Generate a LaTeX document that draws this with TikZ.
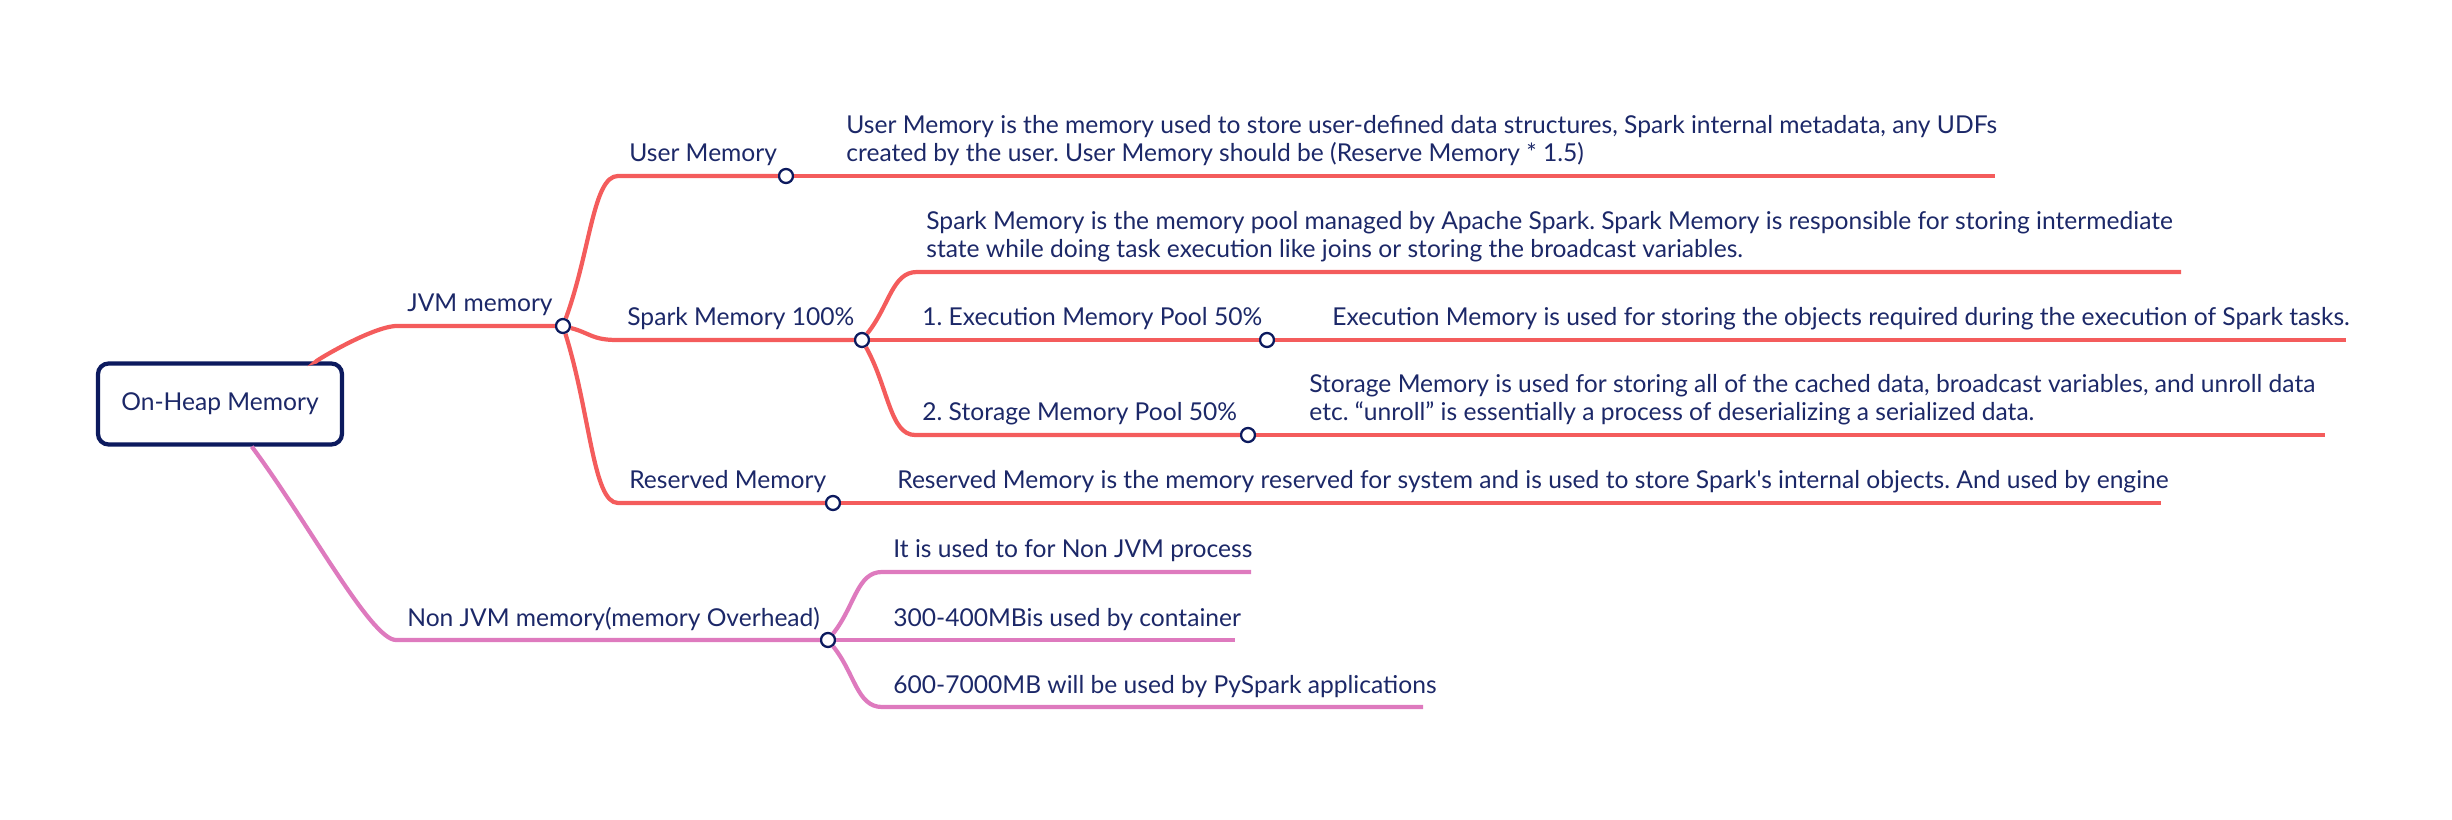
\documentclass[tikz,border=0pt]{standalone}
\usepackage{fontspec}
\usetikzlibrary{calc}
\newfontfamily\mapfont{Lato}
\definecolor{boxline}{RGB}{12,26,94}
\definecolor{inkblue}{RGB}{28,40,104}
\definecolor{jvmred}{RGB}{244,92,92}
\definecolor{nonpink}{RGB}{222,122,190}
\frenchspacing

\begin{document}
\begin{tikzpicture}[
  x=0.2mm, y=-0.2mm,
  every node/.style={text=inkblue, font=\mapfont\fontsize{14}{16.4}\selectfont},
  root/.style={
    draw=boxline, line width=2.4pt, rounded corners=6pt, fill=white,
    minimum width=48.8mm, minimum height=16.2mm, inner sep=0pt
  },
  knot/.style={
    circle, draw=boxline, fill=white, line width=1.3pt,
    minimum size=2.8mm, inner sep=0pt
  },
  lbl/.style={anchor=base west, inner sep=0pt, align=left},
  jvmline/.style={draw=jvmred, line width=2.4pt},
  nonline/.style={draw=nonpink, line width=2.4pt},
  twig/.style={to path={.. controls ($(\tikztostart)!0.5!(\tikztotarget)$)
    and ($(\tikztotarget)+(-25,0)$) .. (\tikztotarget)}},
]
\useasboundingbox (0,0) rectangle (2452,820);

% ---- Root ----
\node[root] (root) at (220,404) {On-Heap Memory};

% ---- JVM memory branch ----
\coordinate (jvm-s) at (397,326);
\node[knot] (jvm) at (563,326) {};
\node[lbl] (jvm-lbl) at (407,312) {JVM memory};

\coordinate (user-s) at (618,176);
\node[knot] (user) at (786,176) {};
\coordinate (user-e) at (1995,176);
\node[lbl] (user-lbl) at (629,162) {User Memory};
\node[lbl] (user-txt) at (846,162) {User Memory is the memory used to store user-defined data structures, Spark internal metadata, any UDFs\\created by the user. User Memory should be (Reserve Memory * 1.5)};

\coordinate (spark-s) at (617,340);
\node[knot] (spark) at (862,340) {};
\node[lbl] (spark-lbl) at (627,326) {Spark Memory 100\%};

\coordinate (sdesc-s) at (917,272);
\coordinate (sdesc-e) at (2181,272);
\node[lbl] (sdesc-txt) at (926,258) {Spark Memory is the memory pool managed by Apache Spark. Spark Memory is responsible for storing intermediate\\state while doing task execution like joins or storing the broadcast variables.};

\node[knot] (exec) at (1267,340) {};
\coordinate (exec-e) at (2346,340);
\node[lbl] (exec-lbl) at (922,326) {1. Execution Memory Pool 50\%};
\node[lbl] (exec-txt) at (1332,326) {Execution Memory is used for storing the objects required during the execution of Spark tasks.};

\coordinate (stor-s) at (915,435);
\node[knot] (stor) at (1248,435) {};
\coordinate (stor-e) at (2325,435);
\node[lbl] (stor-lbl) at (922,421) {2. Storage Memory Pool 50\%};
\node[lbl] (stor-txt) at (1309,421) {Storage Memory is used for storing all of the cached data, broadcast variables, and unroll data\\etc. “unroll” is essentially a process of deserializing a serialized data.};

\coordinate (res-s) at (618,503);
\node[knot] (res) at (833,503) {};
\coordinate (res-e) at (2161,503);
\node[lbl] (res-lbl) at (629,489) {Reserved Memory};
\node[lbl] (res-txt) at (897,489) {Reserved Memory is the memory reserved for system and is used to store Spark's internal objects. And used by engine};

% ---- Non JVM branch ----
\coordinate (non-s) at (396,640);
\node[knot] (non) at (828,640) {};
\node[lbl] (non-lbl) at (407,626) {Non JVM memory(memory Overhead)};

\coordinate (c1-s) at (882,572);
\coordinate (c1-e) at (1251,572);
\node[lbl] (c1-txt) at (893,558) {It is used to for Non JVM process};
\coordinate (c2-e) at (1235,640);
\node[lbl] (c2-txt) at (893,626) {300-400MBis used by container};
\coordinate (c3-s) at (882,707);
\coordinate (c3-e) at (1423,707);
\node[lbl] (c3-txt) at (893,693) {600-7000MB will be used by PySpark applications};

% ---- Edges ----
\draw[jvmline] (root) to[twig] (jvm-s) -- (jvm);
\foreach \p/\s/\c in {jvm/user-s/user, jvm/spark-s/spark, jvm/res-s/res,
                      spark/sdesc-s/sdesc-e, spark/stor-s/stor}
  \draw[jvmline] (\p) to[twig] (\s) -- (\c);
\foreach \a/\b in {user/user-e, spark/exec, exec/exec-e, stor/stor-e, res/res-e}
  \draw[jvmline] (\a) -- (\b);

\draw[nonline] (root) to[twig] (non-s) -- (non);
\foreach \s/\c in {c1-s/c1-e, c3-s/c3-e}
  \draw[nonline] (non) to[twig] (\s) -- (\c);
\draw[nonline] (non) -- (c2-e);

\end{tikzpicture}
\end{document}
